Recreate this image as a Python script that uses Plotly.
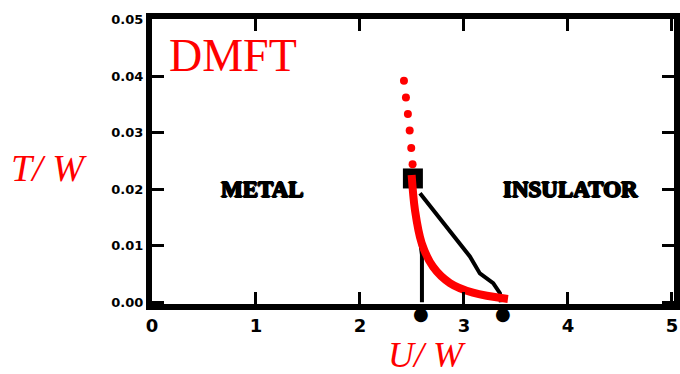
import plotly.graph_objects as go

# DMFT first-order line (U/W, T/W), ending at the critical point
dmft_u = [2.497, 2.529, 2.593, 2.702, 2.865, 3.086, 3.423]
dmft_t = [0.0225, 0.0163, 0.0105, 0.0063, 0.0034, 0.0017, 0.0006]

# crossover above the critical point
cross_u = [2.423, 2.442, 2.461, 2.478, 2.493, 2.506]
cross_t = [0.0392, 0.0362, 0.0333, 0.0304, 0.0273, 0.0244]

# critical end point
crit_u = [2.509]
crit_t = [0.0219]

# spinodal lines of the coexistence region
uc1_u = [2.509, 2.557, 2.596, 2.596]
uc1_t = [0.0207, 0.0137, 0.0084, 0.0]
uc2_u = [2.577, 2.833, 3.057, 3.153, 3.281, 3.346, 3.355]
uc2_t = [0.0193, 0.0134, 0.0081, 0.0051, 0.0034, 0.0016, 0.0]

# markers hanging below the U axis at Uc1 and Uc2
uc_marks_u = [2.586, 3.375]

x_ticks = [0, 1, 2, 3, 4, 5]
x_labels = ["0", "1", "2", "3", "4", "5"]
y_ticks = [0.00, 0.01, 0.02, 0.03, 0.04, 0.05]
y_labels = ["0.00", "0.01", "0.02", "0.03", "0.04", "0.05"]

fig = go.Figure()

fig.add_trace(go.Scatter(x=uc1_u, y=uc1_t, mode="lines",
                         line=dict(color="black", width=4), hoverinfo="skip"))
fig.add_trace(go.Scatter(x=uc2_u, y=uc2_t, mode="lines",
                         line=dict(color="black", width=4), hoverinfo="skip"))
fig.add_trace(go.Scatter(x=crit_u, y=crit_t, mode="markers",
                         marker=dict(symbol="square", size=20, color="black"),
                         hoverinfo="skip"))
fig.add_trace(go.Scatter(x=dmft_u, y=dmft_t, mode="lines",
                         line=dict(color="#ff0000", width=8, shape="spline"),
                         hoverinfo="skip"))
fig.add_trace(go.Scatter(x=cross_u, y=cross_t, mode="markers",
                         marker=dict(size=8, color="#ff0000"), hoverinfo="skip"))

heavy = "1px 0 0 black, -1px 0 0 black, 0 1px 0 black, 0 -1px 0 black"
label_font = dict(family="Liberation Serif", size=23, color="black",
                  weight="bold", shadow=heavy)
red_serif = dict(family="Liberation Serif", color="#ff0000")

annotations = [
    dict(x=0.78, y=0.0437, xref="x", yref="y", text="DMFT", showarrow=False,
         font=dict(size=46, **red_serif), xanchor="center", yanchor="middle"),
    dict(x=1.06, y=0.0200, xref="x", yref="y", text="METAL", showarrow=False,
         font=label_font, xanchor="center", yanchor="middle"),
    dict(x=4.02, y=0.0200, xref="x", yref="y", text="INSULATOR", showarrow=False,
         font=label_font, xanchor="center", yanchor="middle"),
    dict(x=-0.198, y=0.478, xref="paper", yref="paper", text="<i>T/ W</i>",
         showarrow=False, font=dict(size=38, **red_serif),
         xanchor="center", yanchor="middle"),
    dict(x=2.64, y=-0.178, xref="x", yref="paper", text="<i>U/ W</i>",
         showarrow=False, font=dict(size=36, **red_serif),
         xanchor="center", yanchor="middle"),
]
for u in uc_marks_u:
    annotations.append(dict(x=u, y=-0.032, xref="x", yref="paper", text="●",
                            showarrow=False, xanchor="center", yanchor="middle",
                            font=dict(family="DejaVu Sans", size=18, color="black")))

fig.update_layout(
    width=680, height=374,
    margin=dict(l=152, r=6, t=19, b=70),
    plot_bgcolor="white", paper_bgcolor="white",
    showlegend=False,
    xaxis=dict(range=[0, 5.02], tickvals=x_ticks, ticktext=x_labels,
               automargin=False,
               showline=True, linewidth=6, linecolor="black", mirror="ticks",
               ticks="inside", ticklen=12, tickwidth=3, tickcolor="black",
               showgrid=False, zeroline=False,
               tickfont=dict(family="DejaVu Sans", size=18, color="black", weight="bold")),
    yaxis=dict(range=[-0.0003, 0.0501], tickvals=y_ticks, ticktext=y_labels,
               automargin=False,
               showline=True, linewidth=6, linecolor="black", mirror="ticks",
               ticks="inside", ticklen=12, tickwidth=3, tickcolor="black",
               showgrid=False, zeroline=False,
               tickfont=dict(family="DejaVu Sans", size=13, color="black", weight="bold")),
    annotations=annotations,
)

fig.write_html("out.html")
